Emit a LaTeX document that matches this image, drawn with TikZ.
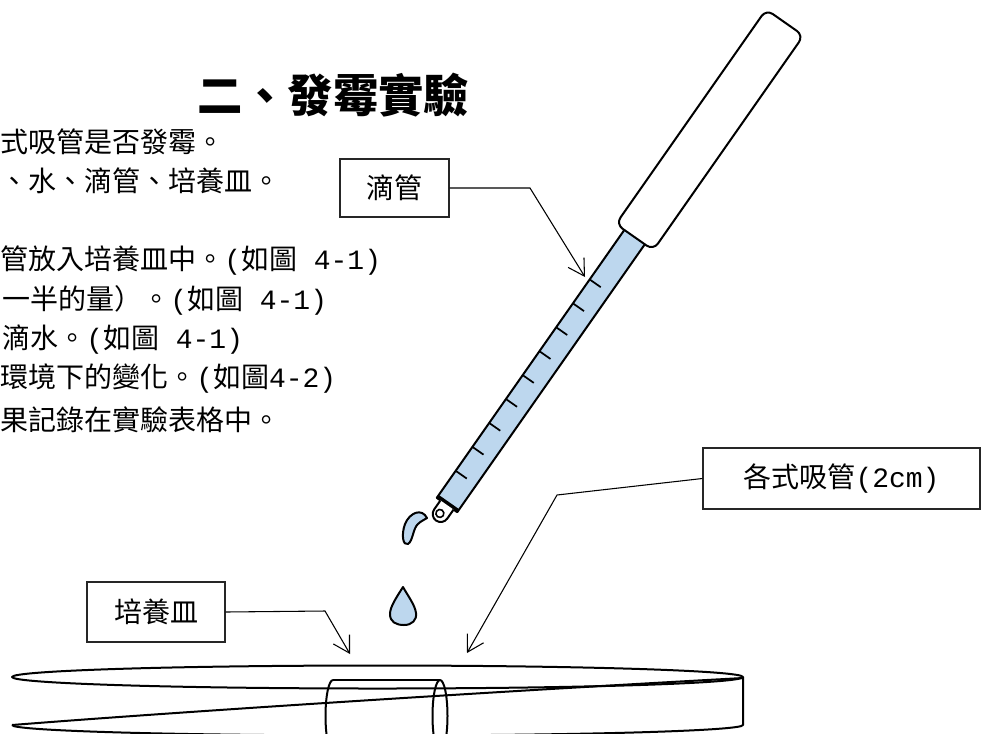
\documentclass[tikz,border=0pt]{standalone}
\usepackage{fontspec}
\setmainfont{Liberation Serif}
\newfontfamily\cjk{Noto Sans CJK TC}
\newfontfamily\half{Liberation Mono}
\usetikzlibrary{arrows.meta}
\definecolor{water}{HTML}{BDD7EE}
% half-width Latin runs inside CJK lines
\newcommand{\hw}[1]{{\half #1}}

\begin{document}
\begin{tikzpicture}[x=0.75pt,y=-0.75pt,
  bodytext/.style={anchor=west, inner sep=0pt, font=\cjk\fontsize{21}{25}\selectfont},
  labelbox/.style={draw=black!85, line width=1pt, fill=white, inner sep=0pt,
    font=\cjk\fontsize{21}{25}\selectfont},
  callout/.style={line width=0.8pt, -{Straight Barb[length=12pt,width=14pt]}},
  outline/.style={line width=1.5pt, line join=round},
  tick/.style={line width=1.3pt}]
\useasboundingbox (0,0) rectangle (981,733);
\clip (0,0) rectangle (981,733);
\fill[white] (0,0) rectangle (981,733);

% heading
\node[font=\cjk\bfseries\fontsize{34}{40}\selectfont] (title) at (333,95) {二、發霉實驗};

% procedure text
\node[bodytext] (l1) at (0,142) {式吸管是否發霉。};
\node[bodytext] (l2) at (0,181) {、水、滴管、培養皿。};
\node[bodytext] (l4) at (0,261) {管放入培養皿中。\hw{(}如圖\hw{ 4-1)}};
\node[bodytext] (l5) at (2,300) {一半的量）。\hw{(}如圖\hw{ 4-1)}};
\node[bodytext] (l6) at (2,340) {滴水。\hw{(}如圖\hw{ 4-1)}};
\node[bodytext] (l7) at (0,379) {環境下的變化。\hw{(}如圖\hw{4-2)}};
\node[bodytext] (l8) at (0,420) {果記錄在實驗表格中。};

% petri dish
\draw[outline] (377.5,677) ellipse (365.5 and 11.5);
\draw[outline] (12,725) arc (180:0:365.5 and 10.5) -- (743,677);
\draw[outline] (12,725) .. controls (150,714) and (450,694) .. (743,678);

% straw piece lying in the dish
\draw[outline] (333,680) -- (440,680);
\draw[outline] (333,680) arc (-90:-270:7.5 and 36);
\draw[outline] (440,716) ellipse (7.5 and 36);

% dropper, drawn along its own axis (u up the barrel, v across it)
\begin{scope}[shift={(447,505)}, x={(0.4302pt,0.6144pt)}, y={(-0.6144pt,0.4302pt)}]
  \draw[outline, fill=water] (0,-12.5) -- (330,-12.5) -- (330,12.5) -- (0,12.5) -- cycle;
  \foreach \k in {0,...,8}
    \draw[tick] (33+29.2*\k,12.5) -- ++(0,-13.5);
  \draw[line width=2.6pt] (1.8,-12.5) -- (1.8,12.5);
  \draw[outline, fill=white] (0,-8) -- (-11,-8) arc (-90:-270:8) -- (0,8);
  \draw[line width=1.2pt] (-11,1) circle (4);
  \draw[outline, fill=white, rounded corners=6pt]
    (327,-22.8) -- (589,-22.8) -- (589,22.8) -- (327,22.8) -- cycle;
\end{scope}

% drops
\draw[outline, fill=water] (427,518) .. controls (422,508) and (410,512) .. (405,524)
  .. controls (401,535) and (403,546) .. (408,544)
  .. controls (413,541) and (413,528) .. (418,524)
  .. controls (421,521) and (424,520) .. (427,518) -- cycle;
\draw[outline, fill=water] (403,587) .. controls (396,598) and (390,607) .. (390,614)
  .. controls (390,622) and (396,625) .. (404,625)
  .. controls (412,625) and (417,620) .. (416,613)
  .. controls (415,605) and (408,596) .. (403,587) -- cycle;

% labels and callouts
\node[labelbox, minimum width=81.75pt, minimum height=43.5pt] (dropbox) at (394.5,188) {\raisebox{-2.5pt}{滴管}};
\node[labelbox, minimum width=103.5pt, minimum height=45pt] (dishbox) at (156,612) {\raisebox{-4pt}{培養皿}};
\node[labelbox, minimum width=207.75pt, minimum height=45.75pt] (strawbox) at (841.5,478.5) {\raisebox{-3pt}{各式吸管\hw{(2cm)}}};

\coordinate (dropbend) at (530,188);
\coordinate (droptip) at (585,277);
\coordinate (dishbend) at (325,611);
\coordinate (dishtip) at (350,654);
\coordinate (strawbend) at (557,495);
\coordinate (strawtip) at (467,653);

\draw[callout] (dropbox.east) -- (dropbend) -- (droptip);
\draw[callout] (dishbox.east) -- (dishbend) -- (dishtip);
\draw[callout] (strawbox.west) -- (strawbend) -- (strawtip);
\end{tikzpicture}
\end{document}
